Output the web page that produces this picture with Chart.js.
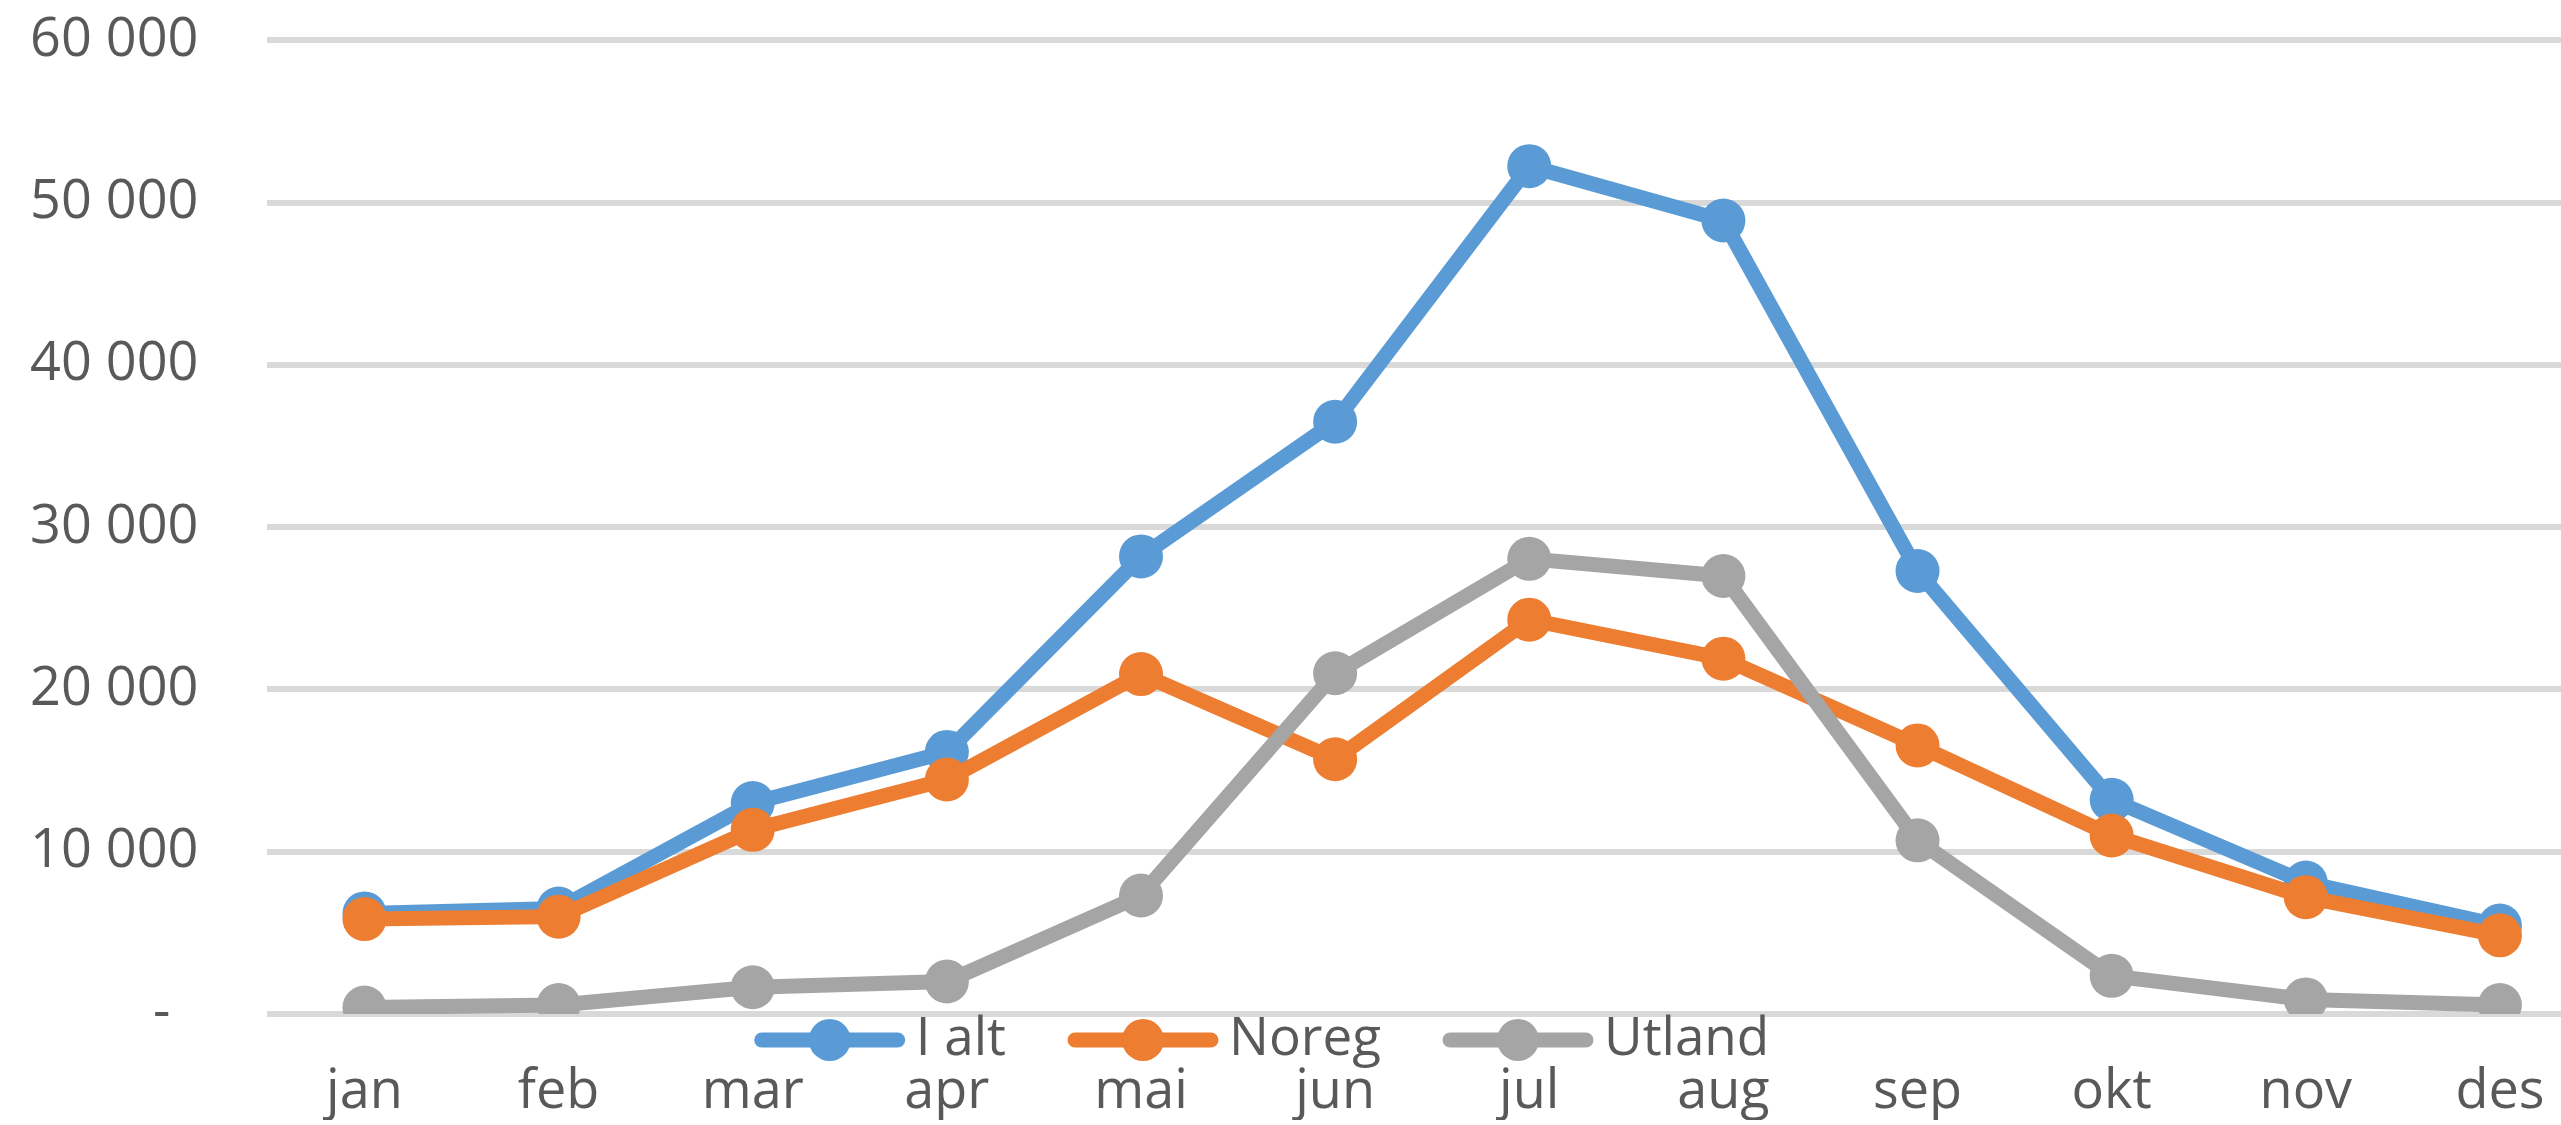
<!DOCTYPE html>
<html lang="no">

<head>
    <meta charset="UTF-8">
    <title>Overnattingar per månad</title>
    <style>
        html, body { margin: 0; padding: 0; background: #fff; overflow: hidden; }
        #wrap { width: 2619px; height: 1125px; }
    </style>
</head>

<body>
    <div id="wrap"><canvas id="monthChart"></canvas></div>
    <script src="https://cdn.jsdelivr.net/npm/chart.js"></script>
    <script>
        // månader
        const months = ['jan', 'feb', 'mar', 'apr', 'mai', 'jun', 'jul', 'aug', 'sep', 'okt', 'nov', 'des'];

        // seriar (lesne av frå figuren)
        const iAlt = [6200, 6500, 13000, 16150, 28200, 36500, 52250, 48900, 27300, 13200, 8100, 5450];
        const noreg = [5850, 6000, 11350, 14450, 20950, 15700, 24300, 21900, 16550, 11000, 7200, 4850];
        const utland = [400, 550, 1650, 2000, 7300, 21000, 28050, 26990, 10700, 2350, 900, 550];

        const yTicks = [0, 10000, 20000, 30000, 40000, 50000, 60000];

        const labelColor = '#595959';
        const fontFamily = '"Open Sans", sans-serif';

        // legenden ligg mellom nullinja og månadene, som i Excel-figuren
        const legendInside = {
            id: 'legendInside',
            afterDraw(chart) {
                const c = chart.ctx;
                const lineLen = 150, textGap = 11, itemGap = 62;
                const y = 1040;
                c.save();
                c.font = '53px ' + fontFamily;
                const sets = chart.data.datasets;
                let total = 0;
                sets.forEach((ds, i) => {
                    total += lineLen + textGap + c.measureText(ds.label).width;
                    if (i < sets.length - 1) total += itemGap;
                });
                let x = 1262 - total / 2;
                sets.forEach(ds => {
                    c.strokeStyle = ds.borderColor;
                    c.lineWidth = 15;
                    c.lineCap = 'round';
                    c.beginPath();
                    c.moveTo(x + 7, y);
                    c.lineTo(x + lineLen - 7, y);
                    c.stroke();
                    c.fillStyle = ds.borderColor;
                    c.beginPath();
                    c.arc(x + lineLen / 2, y, 21, 0, Math.PI * 2);
                    c.fill();
                    c.fillStyle = labelColor;
                    c.textBaseline = 'middle';
                    c.textAlign = 'left';
                    c.fillText(ds.label, x + lineLen + textGap, y);
                    x += lineLen + textGap + c.measureText(ds.label).width + itemGap;
                });
                c.restore();
            }
        };

        function series(label, data, color, order) {
            return {
                label: label,
                data: data,
                borderColor: color,
                backgroundColor: color,
                pointBackgroundColor: color,
                pointBorderColor: color,
                borderWidth: 15,
                pointRadius: 22,
                pointBorderWidth: 0,
                tension: 0,
                order: order
            };
        }

        const ctx = document.getElementById('monthChart').getContext('2d');
        const monthChart = new Chart(ctx, {
            type: 'line',
            data: {
                labels: months,
                datasets: [
                    series('I alt', iAlt, '#5B9BD5', 2),
                    series('Noreg', noreg, '#ED7D31', 1),
                    series('Utland', utland, '#A5A5A5', 0)
                ]
            },
            options: {
                responsive: true,
                maintainAspectRatio: false,
                animation: false,
                layout: {
                    padding: { left: 22, right: 2, top: 0, bottom: 5 }
                },
                plugins: {
                    legend: { display: false },
                    tooltip: { enabled: false }
                },
                scales: {
                    x: {
                        offset: true,
                        // usynlege tick-strekar gir plass til legenden under nullinja
                        grid: { display: false, drawTicks: true, tickLength: 52 },
                        border: { display: false },
                        ticks: {
                            color: labelColor,
                            padding: 0,
                            maxRotation: 0,
                            font: { family: fontFamily, size: 54, lineHeight: 1 }
                        }
                    },
                    y: {
                        min: 0,
                        max: 60000,
                        afterBuildTicks: axis => {
                            axis.ticks = yTicks.map(v => ({ value: v }));
                        },
                        grid: { color: '#D9D9D9', lineWidth: 6, drawTicks: true, tickLength: 61, tickColor: 'rgba(0,0,0,0)' },
                        border: { display: false },
                        ticks: {
                            color: labelColor,
                            padding: 8,
                            font: { family: fontFamily, size: 54 },
                            callback: v => v === 0 ? '-  ' : String(v).replace(/\B(?=(\d{3})+(?!\d))/g, ' ')
                        }
                    }
                }
            },
            plugins: [legendInside]
        });
    </script>
</body>

</html>
